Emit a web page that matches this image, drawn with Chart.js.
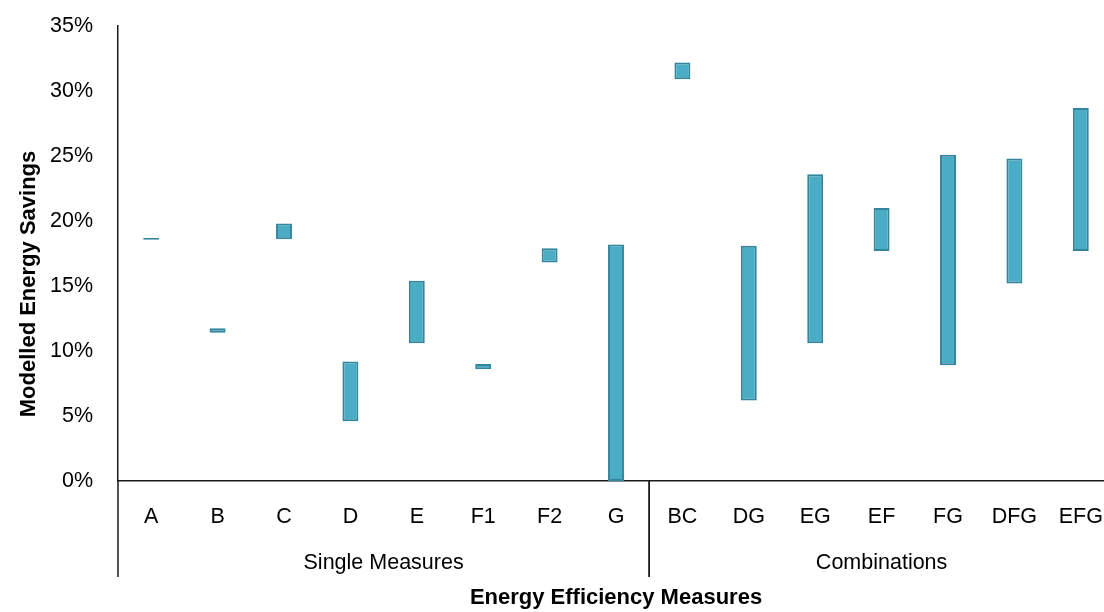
<!DOCTYPE html>
<html>
<head>
<meta charset="utf-8">
<title>Modelled Energy Savings</title>
<script src="https://cdn.jsdelivr.net/npm/chart.js@4.4.1/dist/chart.umd.min.js"></script>
<style>
    html, body { margin: 0; padding: 0; background: #fff; overflow: hidden; }
    #wrap { width: 1114px; height: 612px; }
</style>
</head>
<body>
<div id="wrap"><canvas id="chart" width="1114" height="612"></canvas></div>
<script>
const categories = ['A', 'B', 'C', 'D', 'E', 'F1', 'F2', 'G', 'BC', 'DG', 'EG', 'EF', 'FG', 'DFG', 'EFG'];
const lowValues  = [18.55, 11.4, 18.6, 4.6, 10.6, 8.6, 16.8, 0, 30.9, 6.2, 10.6, 17.7, 8.9, 15.2, 17.7];
const highValues = [18.7, 11.75, 19.8, 9.2, 15.4, 9.0, 17.9, 18.2, 32.2, 18.1, 23.6, 21.0, 25.1, 24.8, 28.7];
const groupNames = ['Single Measures', 'Combinations'];
const groupSizes = [8, 7];
const yTicks = [0, 5, 10, 15, 20, 25, 30, 35];

const FONT = '"Liberation Sans", Arial, sans-serif';
const textColor = '#000';
const axisColor = '#1a1a1a';

// group labels, separators and y title
const groupPlugin = {
    id: 'groups',
    afterDraw(chart) {
        const { ctx, chartArea, scales: { x } } = chart;
        const half = (x.getPixelForValue(1) - x.getPixelForValue(0)) / 2;
        ctx.save();
        ctx.strokeStyle = axisColor;
        ctx.lineWidth = 1.5;
        ctx.fillStyle = textColor;
        ctx.font = '21.5px ' + FONT;
        ctx.textAlign = 'center';
        ctx.textBaseline = 'middle';

        let start = 0;
        groupSizes.forEach((size, i) => {
            const left = x.getPixelForValue(start) - half;
            const right = x.getPixelForValue(start + size - 1) + half;
            [left, right].forEach(px => {
                ctx.beginPath();
                ctx.moveTo(px, chartArea.bottom);
                ctx.lineTo(px, 577);
                ctx.stroke();
            });
            ctx.fillText(groupNames[i], (left + right) / 2, 563);
            start += size;
        });

        ctx.translate(29, 284);
        ctx.rotate(-Math.PI / 2);
        ctx.font = 'bold 22px ' + FONT;
        ctx.fillText('Modelled Energy Savings', 0, 0);
        ctx.restore();
    }
};

const ctx = document.getElementById('chart').getContext('2d');
const chart = new Chart(ctx, {
    type: 'bar',
    data: {
        labels: categories,
        datasets: [{
            label: 'Modelled Energy Savings',
            data: categories.map((c, i) => [lowValues[i], highValues[i]]),
            backgroundColor: '#4bacc6',
            borderColor: '#31859c',
            borderWidth: 2,
            borderSkipped: false,
            barPercentage: 0.24,
            categoryPercentage: 1
        }]
    },
    options: {
        responsive: false,
        animation: false,
        layout: { padding: { top: 26, left: 0, right: 0, bottom: 0 } },
        plugins: {
            legend: { display: false },
            tooltip: { enabled: false }
        },
        scales: {
            x: {
                grid: { display: false, drawTicks: false },
                border: { display: true, color: axisColor, width: 1.5 },
                ticks: {
                    color: textColor,
                    font: { family: FONT, size: 21.5 },
                    padding: 23,
                    maxRotation: 0,
                    autoSkip: false
                },
                title: {
                    display: true,
                    text: 'Energy Efficiency Measures',
                    color: textColor,
                    font: { family: FONT, size: 22, weight: 'bold', lineHeight: 1 },
                    padding: { top: 0, bottom: 3 }
                },
                afterFit(scale) {
                    scale.height = 131;
                    scale.paddingLeft = 0;
                    scale.paddingRight = 0;
                }
            },
            y: {
                min: 0,
                max: 35,
                grid: { display: false, drawTicks: false },
                border: { display: true, color: axisColor, width: 1.5 },
                afterBuildTicks(scale) { scale.ticks = yTicks.map(v => ({ value: v })); },
                ticks: {
                    color: textColor,
                    font: { family: FONT, size: 21.5 },
                    padding: 25,
                    callback: v => v + '%'
                },
                afterFit(scale) {
                    scale.width = 118;
                    scale.paddingTop = 0;
                    scale.paddingBottom = 0;
                }
            }
        }
    },
    plugins: [groupPlugin]
});
</script>
</body>
</html>
